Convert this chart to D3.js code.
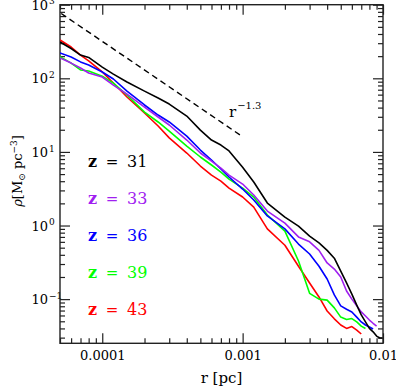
<!DOCTYPE html>
<html><head><meta charset="utf-8">
<script src="https://cdn.jsdelivr.net/npm/d3@7"></script>
<style>
body{margin:0;background:#fff}
svg{display:block}
text{font-family:"DejaVu Serif","Liberation Serif",serif;fill:#000}
</style>
</head><body>
<svg id="chart" width="396" height="386"></svg>
<script>
// radius bins [pc]
const radii = [5e-5,6e-5,7e-5,8e-5,1e-4,1.2e-4,1.5e-4,2e-4,2.5e-4,3e-4,4e-4,5e-4,6e-4,7e-4,8e-4,
  1e-3,1.2e-3,1.5e-3,2e-3,2.5e-3,3e-3,3.5e-3,4e-3,4.5e-3,5e-3,5.5e-3,6e-3,6.5e-3,7e-3,7.5e-3,8e-3,8.5e-3,9e-3,9.5e-3,9.9e-3];
// density [Msun pc^-3] per redshift
const rho_z31 = [311,254,207,192,142,114,89,67,54,44.7,30.7,19.8,14.5,12.4,10.3,6.2,3.9,2.02,1.30,0.98,0.72,0.58,0.46,0.36,0.24,0.166,0.117,0.083,0.061,0.049,0.040,0.036,0.0315,0.0296,0.0296];
const rho_z33 = [189,161,138,118,104,81,61,40.7,29.8,23.2,14.5,9.66,7.52,6.04,4.85,3.66,2.60,1.57,1.08,0.70,0.60,0.46,0.31,0.256,0.20,0.129,0.100,0.081,0.067,0.059,0.052,0.047,0.043];
const rho_z36 = [221,195,167,152,122,97.8,67,43.4,31.7,25.5,16.4,10.6,7.76,5.86,4.56,3.13,2.22,1.35,0.90,0.56,0.41,0.28,0.1875,0.114,0.081,0.073,0.067,0.057,0.049,0.0445,0.0418,0.0392];
const rho_z39 = [197,161,130,126,107,86,59.3,34.8,25.5,19.2,12.0,8.53,6.64,5.33,4.28,3.23,2.44,1.39,0.84,0.33,0.12,0.100,0.097,0.076,0.057,0.053,0.0545,0.049,0.043,0.040];
const rho_z43 = [331,266,207,172,122,86.3,55.7,33.8,22.5,15.5,9.66,6.43,4.85,4.02,3.23,2.44,1.78,0.90,0.54,0.28,0.166,0.107,0.069,0.054,0.0445,0.040,0.0424,0.038,0.0336];
const seriesNames = ["31","33","36","39","43"];
const seriesColors = ["#000000","#a020f0","#0000ff","#00ff00","#ff0000"];
const seriesValues = [rho_z31,rho_z33,rho_z36,rho_z39,rho_z43];
// reference power law r^-1.3
const refR = [5.1e-5, 1e-3];
const refRho = [760, 16.1];
const refLabel = "r", refExp = "\u22121.3";
// ticks
const xMajor = [1e-4,1e-3,1e-2];
const xMajorLabels = ["0.0001","0.001","0.01"];
const yMajor = [0.1,1,10,100,1000];
const yMajorExp = ["\u22121","0","1","2","3"];
const xLabel = "r [pc]";

const svg = d3.select("#chart");
const L=60, R=383, T=4.7, B=343.3;
const x = d3.scaleLog().domain([5e-5,1e-2]).range([L,R]);
const y = d3.scaleLog().domain([Math.pow(10,-1.6),1000]).range([B,T]);

const xMinor=[], yMinor=[];
[1e-5,1e-4,1e-3].forEach(d=>{for(let k=2;k<=9;k++){const v=d*k; if(v>=5e-5&&v<=1e-2) xMinor.push(v);}});
[0.01,0.1,1,10,100].forEach(d=>{for(let k=2;k<=9;k++){const v=d*k; if(v>=0.0251&&v<=1000) yMinor.push(v);}});

const axisColor="#222";
function styleAxis(g){g.select(".domain").remove();g.selectAll(".tick line").attr("stroke",axisColor).attr("stroke-width",1.2);}

// bottom
svg.append("g").attr("transform",`translate(0,${B})`)
  .call(d3.axisBottom(x).tickValues(xMinor).tickSize(-5).tickFormat(""))
  .call(styleAxis);
const bx = svg.append("g").attr("transform",`translate(0,${B})`)
  .call(d3.axisBottom(x).tickValues(xMajor).tickSize(-10).tickPadding(7)
    .tickFormat((d,i)=>xMajorLabels[i]))
  .call(styleAxis);
bx.selectAll(".tick text").attr("font-size",13).attr("font-family","DejaVu Serif").attr("fill","#000");
// top
svg.append("g").attr("transform",`translate(0,${T})`)
  .call(d3.axisTop(x).tickValues(xMinor).tickSize(-5).tickFormat("")).call(styleAxis);
svg.append("g").attr("transform",`translate(0,${T})`)
  .call(d3.axisTop(x).tickValues(xMajor).tickSize(-10).tickFormat("")).call(styleAxis);
// left
svg.append("g").attr("transform",`translate(${L},0)`)
  .call(d3.axisLeft(y).tickValues(yMinor).tickSize(-5).tickFormat("")).call(styleAxis);
const ly = svg.append("g").attr("transform",`translate(${L},0)`)
  .call(d3.axisLeft(y).tickValues(yMajor).tickSize(-10).tickFormat(""))
  .call(styleAxis);
ly.selectAll(".tick").each(function(d,i){
  const g=d3.select(this);
  g.select("text").remove();
  g.append("text").attr("x",-12).attr("dy","0.36em").attr("text-anchor","end")
    .attr("font-size",13).text("10");
  g.append("text").attr("x",-11).attr("dy","-0.1em").attr("text-anchor","start")
    .attr("font-size",9).text(yMajorExp[i]);
});
// right
svg.append("g").attr("transform",`translate(${R},0)`)
  .call(d3.axisRight(y).tickValues(yMinor).tickSize(-5).tickFormat("")).call(styleAxis);
svg.append("g").attr("transform",`translate(${R},0)`)
  .call(d3.axisRight(y).tickValues(yMajor).tickSize(-10).tickFormat("")).call(styleAxis);

// frame
svg.append("rect").attr("x",L).attr("y",T).attr("width",R-L).attr("height",B-T)
  .attr("fill","none").attr("stroke",axisColor).attr("stroke-width",1.4);

// clip
svg.append("clipPath").attr("id","clip").append("rect").attr("x",L).attr("y",T).attr("width",R-L).attr("height",B-T);

const line = d3.line().x(d=>x(d[0])).y(d=>y(d[1]));
const plot = svg.append("g").attr("clip-path","url(#clip)");
// reference dashed
plot.append("path").datum(refR.map((r,i)=>[r,refRho[i]])).attr("d",line)
  .attr("fill","none").attr("stroke","#000").attr("stroke-width",1.4).attr("stroke-dasharray","6,4");
// series (draw z=31 last-ish as in reference order)
[4,3,2,1,0].forEach(si=>{
  const vals=seriesValues[si];
  plot.append("path").datum(vals.map((v,i)=>[radii[i],v])).attr("d",line)
    .attr("fill","none").attr("stroke",seriesColors[si]).attr("stroke-width",1.6)
    .attr("stroke-linejoin","round");
});

// power-law label
const rl = svg.append("text").attr("x",229).attr("y",117).attr("font-size",15);
rl.append("tspan").text(refLabel);
rl.append("tspan").attr("font-size",10).attr("dy",-8).attr("dx",1).text(refExp);

// legend
seriesNames.forEach((n,i)=>{
  const yy = 167 + i*37;
  const c = seriesColors[i];
  svg.append("text").attr("x",88).attr("y",yy).attr("font-size",16).attr("font-weight","bold").style("fill",c).text("z");
  svg.append("text").attr("x",112).attr("y",yy).attr("font-size",15).attr("text-anchor","middle").style("fill",c).text("=");
  svg.append("text").attr("x",127).attr("y",yy).attr("font-size",16).style("fill",c).text(n);
});

// axis titles
svg.append("text").attr("x",(L+R)/2).attr("y",383).attr("text-anchor","middle").attr("font-size",15).text(xLabel);
const yl = svg.append("text").attr("transform","translate(22,171) rotate(-90)").attr("text-anchor","middle").attr("font-size",13);
yl.append("tspan").attr("font-style","italic").text("\u03c1");
yl.append("tspan").text("[M");
yl.append("tspan").attr("font-size",9).attr("dy",3).text("\u2299");
yl.append("tspan").attr("dy",-3).text(" pc");
yl.append("tspan").attr("font-size",9).attr("dy",-5).text("\u22123");
yl.append("tspan").attr("dy",5).text("]");
</script>
</body></html>
